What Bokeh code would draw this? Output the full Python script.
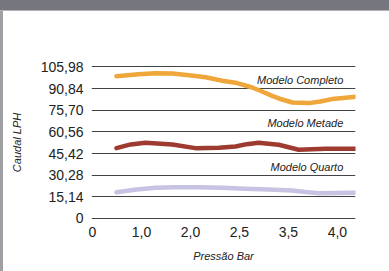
from bokeh.plotting import figure
from bokeh.models import FixedTicker, Range1d, Label, Div
from bokeh.layouts import column, row
from bokeh.embed import file_html
from bokeh.resources import INLINE

# ---- data (x = position index on the pressure axis) ----
x_tick_pos = [0, 1, 2, 3, 4, 5]
x_tick_labels = ["0", "1,0", "2,0", "2,5", "3,5", "4,0"]
y_ticks = [0, 15.14, 30.28, 45.42, 60.56, 75.70, 90.84, 105.98]
y_tick_labels = ["0", "15,14", "30,28", "45,42", "60,56", "75,70", "90,84", "105,98"]

completo_x = [0.49, 0.94, 1.29, 1.63, 1.97, 2.31, 2.65, 2.92, 3.26, 3.46, 3.67, 3.87, 4.08, 4.42, 4.65, 4.89, 5.12, 5.37]
completo_y = [99.5, 100.9, 101.6, 101.4, 100.2, 98.8, 96.3, 95.0, 91.6, 88.8, 85.8, 83.2, 81.1, 80.7, 81.8, 83.5, 84.3, 85.1]

metade_x = [0.49, 0.78, 1.08, 1.63, 2.10, 2.58, 2.92, 3.15, 3.39, 3.80, 4.21, 4.76, 5.37]
metade_y = [49.2, 51.8, 53.0, 51.8, 49.2, 49.5, 50.4, 52.0, 53.0, 51.6, 48.1, 48.8, 48.8]

quarto_x = [0.49, 0.90, 1.29, 1.70, 2.17, 2.65, 3.12, 3.60, 4.08, 4.35, 4.62, 5.00, 5.37]
quarto_y = [18.4, 20.3, 21.5, 21.8, 21.9, 21.5, 20.8, 20.3, 19.6, 18.5, 17.7, 17.8, 18.0]

series_names = ["Modelo Completo", "Modelo Metade", "Modelo Quarto"]
series_label_y = [97.2, 66.5, 35.7]
series_colors = ["#EFA63A", "#9E3B30", "#C6C3E3"]

W, H = 389, 271
HEADER = 11
BORDER = 3
p = figure(width=W - BORDER, height=H - HEADER, output_backend="svg", toolbar_location=None,
           x_range=Range1d(-0.02, 5.37), y_range=Range1d(-0.7, 107.0),
           min_border_left=91 - BORDER, min_border_right=34,
           min_border_top=65 - HEADER, min_border_bottom=52, margin=0)
p.outline_line_color = None
p.background_fill_color = "white"
p.border_fill_color = "white"

for xs, ys, c in zip([completo_x, metade_x, quarto_x], [completo_y, metade_y, quarto_y], series_colors):
    p.line(xs, ys, line_color=c, line_width=4.5, line_cap="round", line_join="round")

for name, yy in zip(series_names, series_label_y):
    p.add_layout(Label(x=5.12, y=yy, text=name, text_align="right", text_baseline="middle",
                       text_font="Liberation Sans", text_font_style="italic",
                       text_font_size="11px", text_color="#222222"))

# axes
p.xaxis.ticker = FixedTicker(ticks=x_tick_pos)
p.xaxis.major_label_overrides = dict(zip(x_tick_pos, x_tick_labels))
p.yaxis.ticker = FixedTicker(ticks=y_ticks)
p.yaxis.major_label_overrides = dict(zip(y_ticks, y_tick_labels))
for ax in (p.xaxis[0], p.yaxis[0]):
    ax.axis_line_color = None
    ax.major_tick_line_color = None
    ax.minor_tick_line_color = None
    ax.major_tick_out = 0
    ax.major_tick_in = 0
    ax.minor_tick_out = 0
    ax.minor_tick_in = 0
    ax.major_label_text_font = "Liberation Sans"
    ax.major_label_text_font_size = "14px"
    ax.major_label_text_color = "#222222"
    ax.axis_label_text_font = "Liberation Sans"
    ax.axis_label_text_font_style = "italic"
    ax.axis_label_text_font_size = "11px"
    ax.axis_label_text_color = "#222222"
p.xaxis.major_label_standoff = 7
p.yaxis.major_label_standoff = 8
p.xaxis.axis_label = "Pressão Bar"
p.yaxis.axis_label = "Caudal LPH"
p.xaxis.axis_label_standoff = 10
p.yaxis.axis_label_standoff = 15

p.xgrid.visible = False
p.ygrid.ticker = FixedTicker(ticks=y_ticks)
p.ygrid.grid_line_color = "#444444"
p.ygrid.grid_line_width = 1

# panel frame: dark header band and grey left border
header = Div(text="", width=W, height=HEADER, margin=0,
             styles={"background-color": "#76777E", "border-bottom": "1px solid #B4B4B8",
                     "box-sizing": "border-box"})
left_border = Div(text="", width=BORDER, height=H - HEADER, margin=0,
                  styles={"background-color": "#A0A0A4"})
layout = column(header, row(left_border, p, spacing=0, margin=0), spacing=0, margin=0)

open("out.html", "w").write(file_html(layout, INLINE))
